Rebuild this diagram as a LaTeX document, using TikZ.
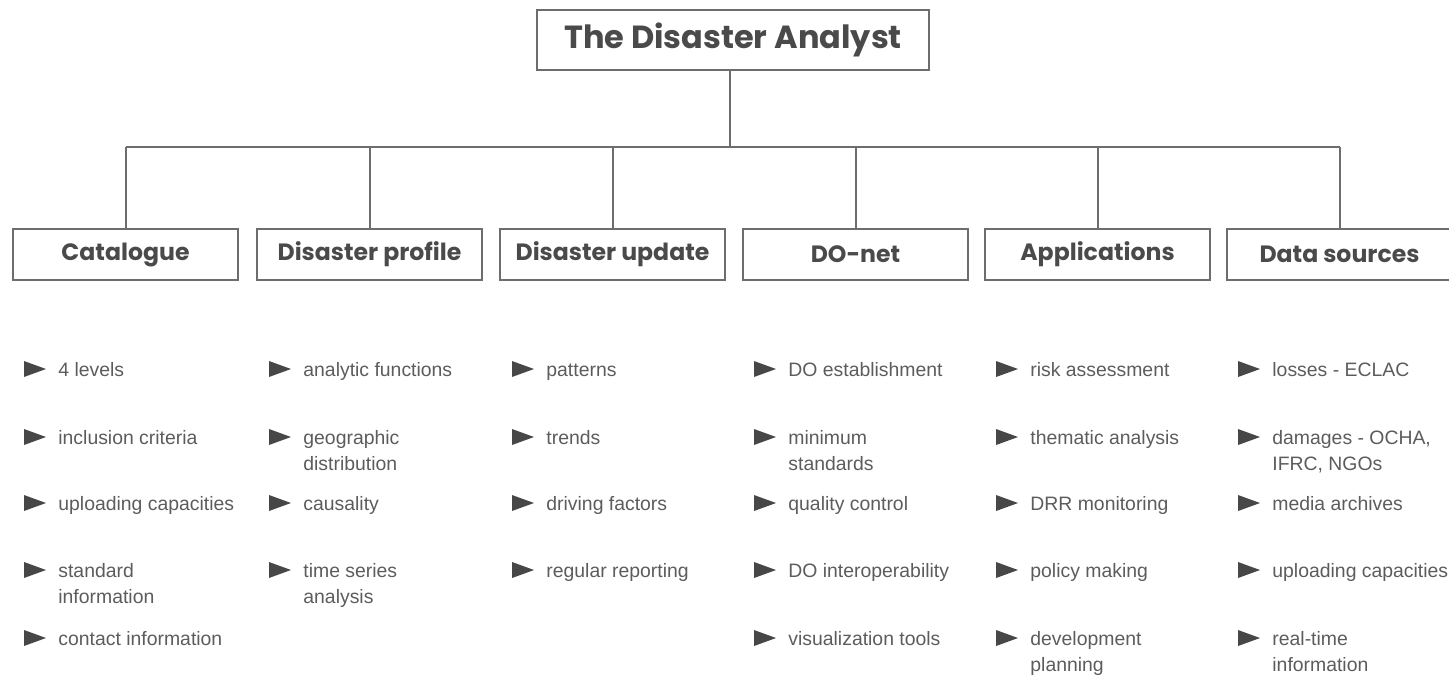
\documentclass[tikz,border=0pt]{standalone}
\usepackage{fontspec}
\setmainfont{Liberation Sans}
\newfontfamily\headfont{Poppins}
\definecolor{linecol}{HTML}{6D6D6D}
\definecolor{headcol}{HTML}{4A4A4A}
\definecolor{textcol}{HTML}{5C5C5C}
\definecolor{tricol}{HTML}{474747}
\newcommand\bul[4]{%
  \fill[tricol] (#2,#3-8) -- (#2+22,#3) -- (#2,#3+8) -- cycle;
  \node[item] (#1) at (#2+34,#3+7) {\begin{tabular}[t]{@{}l@{}}#4\end{tabular}};}
\begin{document}
\begin{tikzpicture}[x=0.5pt,y=-0.5pt,
  conn/.style={draw=linecol,line width=1pt},
  headbox/.style={draw=linecol,line width=1pt,minimum width=112.5pt,minimum height=25.5pt,inner sep=0pt,
    font=\headfont\bfseries\fontsize{11.8}{13}\selectfont,text=headcol},
  titlebox/.style={draw=linecol,line width=1pt,minimum width=196pt,minimum height=30pt,inner sep=0pt,
    font=\headfont\bfseries\fontsize{16}{18}\selectfont,text=headcol},
  item/.style={anchor=base west,inner sep=0pt,font=\fontsize{9.7}{13}\selectfont,text=textcol}]
\useasboundingbox (0,0) rectangle (1449,677);
\node[titlebox] (title) at (733,40) {The Disaster Analyst};
\coordinate (hub) at (730,147);
\node[headbox] (cat) at (125.5,254.5) {Catalogue};
\node[headbox] (prof) at (369.5,254.5) {Disaster profile};
\node[headbox] (upd) at (612.5,254.5) {Disaster update};
\node[headbox] (donet) at (855.5,254.5) {DO-net};
\node[headbox] (app) at (1097.5,254.5) {Applications};
\node[headbox] (src) at (1339.5,254.5) {Data sources};
\draw[conn] (title.south -| hub) -- (hub);
\draw[conn] (cat.north |- hub) -- (src.north |- hub);
\foreach \n in {cat,prof,upd,donet,app,src} \draw[conn] (\n.north) -- (\n.north |- hub);
% column 1
\bul{c1}{24}{369}{4 levels}
\bul{c2}{24}{437}{inclusion criteria}
\bul{c3}{24}{503}{uploading capacities}
\bul{c4}{24}{570}{standard\\information}
\bul{c5}{24}{638}{contact information}
% column 2
\bul{p1}{269}{369}{analytic functions}
\bul{p2}{269}{437}{geographic\\distribution}
\bul{p3}{269}{503}{causality}
\bul{p4}{269}{570}{time series\\analysis}
% column 3
\bul{u1}{512}{369}{patterns}
\bul{u2}{512}{437}{trends}
\bul{u3}{512}{503}{driving factors}
\bul{u4}{512}{570}{regular reporting}
% column 4
\bul{d1}{754}{369}{DO establishment}
\bul{d2}{754}{437}{minimum\\standards}
\bul{d3}{754}{503}{quality control}
\bul{d4}{754}{570}{DO interoperability}
\bul{d5}{754}{638}{visualization tools}
% column 5
\bul{a1}{996}{369}{risk assessment}
\bul{a2}{996}{437}{thematic analysis}
\bul{a3}{996}{503}{DRR monitoring}
\bul{a4}{996}{570}{policy making}
\bul{a5}{996}{638}{development\\planning}
% column 6
\bul{s1}{1238}{369}{losses - ECLAC}
\bul{s2}{1238}{437}{damages - OCHA,\\IFRC, NGOs}
\bul{s3}{1238}{503}{media archives}
\bul{s4}{1238}{570}{uploading capacities}
\bul{s5}{1238}{638}{real-time\\information}
\end{tikzpicture}
\end{document}
